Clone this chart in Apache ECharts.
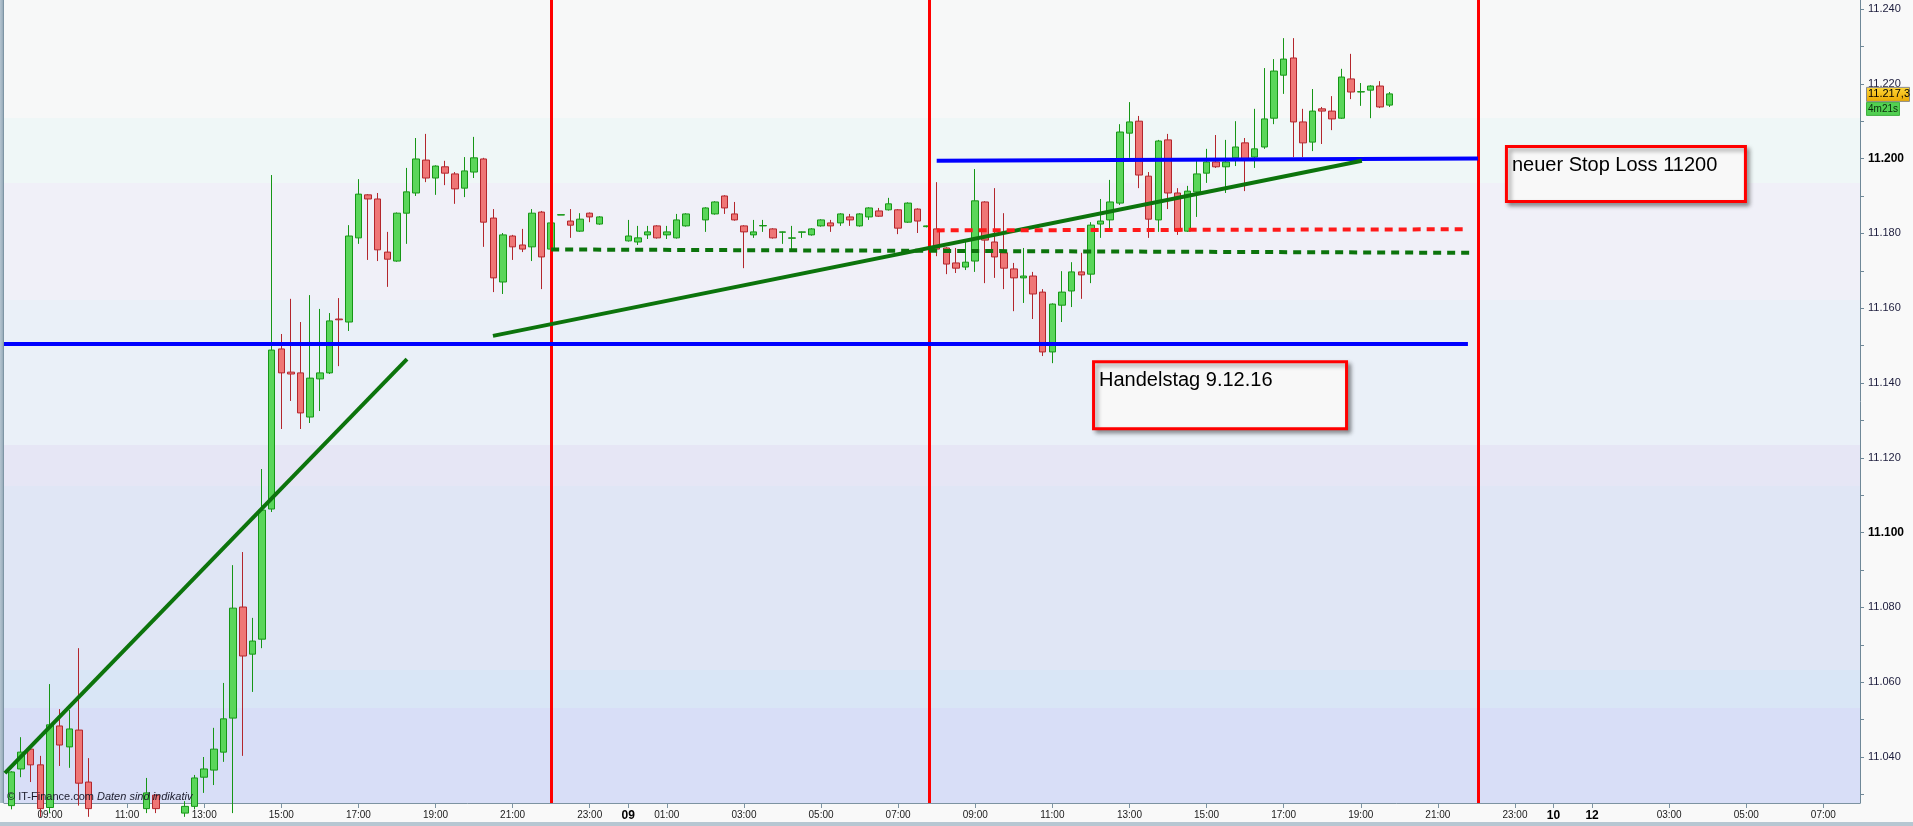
<!DOCTYPE html>
<html><head><meta charset="utf-8">
<script src="https://cdn.jsdelivr.net/npm/echarts@6/dist/echarts.min.js"></script>
<style>html,body{margin:0;padding:0;background:#f9f9f9;}#c{width:1913px;height:826px;}</style>
</head><body><div id="c"></div>
<script>
// time = hours since 08.12.16 00:00 ; [time, open, close, low, high]
const candlesDec8 = [
[8.00,11.0270,11.0360,11.0260,11.0362],[8.25,11.0368,11.0413,11.0346,11.0453],
[8.50,11.0421,11.0379,11.0333,11.0423],[8.75,11.0379,11.0262,11.0240,11.0403],
[9.00,11.0265,11.0486,11.0250,11.0595],[9.25,11.0483,11.0432,11.0376,11.0528],
[9.50,11.0427,11.0475,11.0371,11.0526],[9.75,11.0472,11.0330,11.0270,11.0691],
[10.00,11.0333,11.0262,11.0240,11.0397],[11.50,11.0262,11.0304,11.0250,11.0344],
[11.75,11.0298,11.0262,11.0250,11.0300],[12.50,11.0250,11.0268,11.0240,11.0282],
[12.75,11.0268,11.0344,11.0260,11.0352],[13.00,11.0346,11.0368,11.0304,11.0400],
[13.25,11.0365,11.0421,11.0325,11.0478],[13.50,11.0413,11.0502,11.0387,11.0598],
[13.75,11.0504,11.0798,11.0250,11.0913],[14.00,11.0801,11.0670,11.0403,11.0948],
[14.25,11.0675,11.0710,11.0574,11.0772],[14.50,11.0715,11.1060,11.0691,11.1170],
[14.75,11.1063,11.1488,11.1055,11.1956],[15.00,11.1491,11.1427,11.1277,11.1531],
[15.25,11.1429,11.1424,11.1352,11.1625],[15.50,11.1427,11.1320,11.1277,11.1563],
[15.75,11.1309,11.1413,11.1293,11.1635],[16.00,11.1411,11.1427,11.1325,11.1598],
[16.25,11.1427,11.1566,11.1424,11.1587],[16.50,11.1571,11.1569,11.1445,11.1627],
[16.75,11.1563,11.1793,11.1539,11.1822],[17.00,11.1788,11.1905,11.1772,11.1945],
[17.25,11.1903,11.1892,11.1729,11.1905],[17.50,11.1892,11.1756,11.1726,11.1908],
[17.75,11.1750,11.1731,11.1657,11.1804],[18.00,11.1726,11.1854,11.1724,11.1856],
[18.25,11.1854,11.1911,11.1772,11.1975],[18.50,11.1908,11.1999,11.1900,11.2055],
[18.75,11.1996,11.1948,11.1937,11.2066],[19.00,11.1948,11.1980,11.1903,11.1982],
[19.25,11.1978,11.1961,11.1929,11.1994],[19.50,11.1959,11.1919,11.1879,11.1964],
[19.75,11.1921,11.1967,11.1897,11.2004],[20.00,11.1964,11.2002,11.1948,11.2058],
[20.25,11.1999,11.1830,11.1764,11.2002],[20.50,11.1841,11.1681,11.1643,11.1865],
[20.75,11.1670,11.1796,11.1638,11.1801],[21.00,11.1793,11.1764,11.1729,11.1796],
[21.25,11.1769,11.1758,11.1750,11.1812],[21.50,11.1764,11.1854,11.1726,11.1865],
[21.75,11.1857,11.1737,11.1651,11.1860],[22.00,11.1758,11.1828,11.1756,11.1830],
[22.25,11.1849,11.1850,11.1849,11.1850],[22.50,11.1833,11.1822,11.1788,11.1865],
[22.75,11.1806,11.1838,11.1804,11.1854],[23.00,11.1854,11.1844,11.1830,11.1856],
[23.25,11.1825,11.1844,11.1823,11.1846]
];
const candlesDec9 = [
[24.00,11.1780,11.1793,11.1778,11.1836],[24.25,11.1777,11.1788,11.1769,11.1820],
[24.50,11.1796,11.1804,11.1785,11.1820],[24.75,11.1820,11.1788,11.1786,11.1822],
[25.00,11.1796,11.1804,11.1785,11.1820],[25.25,11.1788,11.1836,11.1786,11.1852],
[25.50,11.1820,11.1852,11.1818,11.1854],[26.00,11.1836,11.1868,11.1804,11.1870],
[26.25,11.1852,11.1884,11.1850,11.1886],[26.50,11.1900,11.1868,11.1852,11.1902],
[26.75,11.1852,11.1836,11.1834,11.1884],[27.00,11.1820,11.1804,11.1707,11.1822],
[27.25,11.1796,11.1804,11.1788,11.1836],[27.50,11.1820,11.1821,11.1804,11.1836],
[27.75,11.1812,11.1788,11.1786,11.1814],[28.00,11.1803,11.1804,11.1772,11.1805],
[28.25,11.1787,11.1788,11.1758,11.1820],[28.50,11.1803,11.1804,11.1788,11.1805],
[28.75,11.1796,11.1812,11.1794,11.1814],[29.00,11.1820,11.1836,11.1818,11.1838],
[29.25,11.1828,11.1820,11.1804,11.1836],[29.50,11.1828,11.1852,11.1820,11.1854],
[29.75,11.1844,11.1836,11.1820,11.1852],[30.00,11.1820,11.1852,11.1818,11.1854],
[30.25,11.1844,11.1868,11.1836,11.1870],[30.50,11.1860,11.1846,11.1844,11.1868],
[30.75,11.1863,11.1879,11.1861,11.1895],[31.00,11.1863,11.1814,11.1798,11.1865],
[31.25,11.1830,11.1881,11.1828,11.1883],[31.50,11.1865,11.1833,11.1801,11.1867],
[31.75,11.1818,11.1820,11.1816,11.1821],[32.00,11.1812,11.1758,11.1739,11.1937],
[32.25,11.1761,11.1718,11.1691,11.1763],[32.50,11.1721,11.1707,11.1694,11.1761],
[32.75,11.1710,11.1723,11.1702,11.1777],[33.00,11.1726,11.1887,11.1697,11.1972],
[33.25,11.1884,11.1782,11.1667,11.1886],[33.50,11.1777,11.1737,11.1681,11.1921],
[33.75,11.1748,11.1707,11.1651,11.1854],[34.00,11.1705,11.1681,11.1592,11.1721],
[34.25,11.1681,11.1686,11.1614,11.1761],[34.50,11.1686,11.1638,11.1571,11.1697],
[34.75,11.1643,11.1483,11.1472,11.1651],[35.00,11.1483,11.1611,11.1453,11.1613],
[35.25,11.1608,11.1643,11.1563,11.1699],[35.50,11.1646,11.1697,11.1603,11.1723],
[35.75,11.1697,11.1689,11.1625,11.1748],[36.00,11.1691,11.1822,11.1667,11.1830],
[36.25,11.1825,11.1833,11.1788,11.1892],[36.50,11.1836,11.1884,11.1809,11.1943],
[36.75,11.1881,11.2071,11.1876,11.2092],[37.00,11.2068,11.2098,11.2002,11.2151],
[37.25,11.2100,11.1956,11.1921,11.2114],[37.50,11.1953,11.1838,11.1788,11.1964],
[37.75,11.1836,11.2047,11.1804,11.2050],[38.00,11.2050,11.1908,11.1865,11.2066],
[38.25,11.1908,11.1806,11.1796,11.1921],[38.50,11.1806,11.1913,11.1804,11.1927],
[38.75,11.1911,11.1959,11.1844,11.1994],[39.00,11.1961,11.1991,11.1935,11.2026],
[39.25,11.1991,11.1978,11.1975,11.2063],[39.50,11.1978,11.1991,11.1908,11.2050],
[39.75,11.2002,11.2031,11.1980,11.2100],[40.00,11.2042,11.1999,11.1913,11.2055],
[40.25,11.2004,11.2026,11.1975,11.2133],[40.50,11.2031,11.2106,11.2026,11.2242],
[40.75,11.2108,11.2234,11.2092,11.2266],[41.00,11.2223,11.2266,11.2173,11.2322],
[41.25,11.2269,11.2098,11.2004,11.2322],[41.50,11.2098,11.2042,11.2004,11.2133],
[41.75,11.2044,11.2127,11.2020,11.2186],[42.00,11.2133,11.2127,11.2039,11.2138],
[42.25,11.2127,11.2106,11.2076,11.2167],[42.50,11.2108,11.2218,11.2106,11.2240],
[42.75,11.2213,11.2178,11.2159,11.2280],[43.00,11.2178,11.2179,11.2141,11.2202],
[43.25,11.2183,11.2194,11.2108,11.2196],[43.50,11.2194,11.2138,11.2135,11.2207],
[43.75,11.2143,11.2173,11.2138,11.2178]
];
const xTickHours  = [9,11,13,15,17,19,21,23,24,25,27,29,31,33,35,37,39,41,43,45,47,48,49,51,53,55];
const xTickLabels = ['09:00','11:00','13:00','15:00','17:00','19:00','21:00','23:00','09','01:00','03:00','05:00','07:00','09:00','11:00','13:00','15:00','17:00','19:00','21:00','23:00','10','12','03:00','05:00','07:00'];
const xBoldLabels = ['09','10','12'];
const yLabelValues = [11.04,11.06,11.08,11.10,11.12,11.14,11.16,11.18,11.20,11.22,11.24];
const yTickValues  = [11.03,11.04,11.05,11.06,11.07,11.08,11.09,11.10,11.11,11.12,11.13,11.14,11.15,11.16,11.17,11.18,11.19,11.20,11.21,11.22,11.23,11.24];
const yBoldValues  = [11.10,11.20];
const redVerticalTimes = [22.0, 31.8, 46.04];
const trendLine1 = [[7.83,11.0357],[18.26,11.1464]];
const trendLine2 = [[20.49,11.1526],[43.03,11.1994]];
const support11150 = [[7.807,11.1504],[45.78,11.1504]];
const stop11200 = [[32.0,11.1994],[46.04,11.2000]];
const greenDashed = [[22.0,11.1757],[45.95,11.1748]];
const redDashed = [[32.0,11.1808],[45.68,11.1811]];
const noteTexts = ['neuer Stop Loss 11200','Handelstag 9.12.16'];
const noteAnchors = [[46.74,11.2036],[36.03,11.1461]];
const lastPriceText = '11.217,3';
const timerText = '4m21s';

const FONT = '"Liberation Sans", Arial, sans-serif';
const chart = echarts.init(document.getElementById('c'), null, {renderer:'canvas'});
const allCandles = candlesDec8.concat(candlesDec9);
const X_MIN = 7.807, X_MAX = 55.95, Y_MIN = 11.0277, Y_MAX = 11.2424;

function seg(name, data, color, type, width){
  return {name, type:'line', data, symbol:'none', silent:true, z:5,
    lineStyle:{color, width, type, cap:'butt'}, animation:false};
}

const bg = new echarts.graphic.LinearGradient(0,0,0,1,[
 {offset:0,color:'#f7f8f8'},{offset:0.147,color:'#f7f8f8'},
 {offset:0.147,color:'#eff7f7'},{offset:0.228,color:'#eff7f7'},
 {offset:0.228,color:'#f0f0f8'},{offset:0.374,color:'#f0f0f8'},
 {offset:0.374,color:'#eaf0f8'},{offset:0.554,color:'#eaf0f8'},
 {offset:0.554,color:'#e6e6f5'},{offset:0.605,color:'#e6e6f5'},
 {offset:0.605,color:'#e0e6f5'},{offset:0.834,color:'#e0e6f5'},
 {offset:0.834,color:'#d9e6f6'},{offset:0.882,color:'#d9e6f6'},
 {offset:0.882,color:'#d8def7'},{offset:1,color:'#d8def7'}
]);

chart.setOption({
  animation:false,
  backgroundColor:'#f9f9f9',
  grid:{left:4,right:53,top:0,bottom:23,show:true,backgroundColor:bg,borderWidth:0},
  xAxis:{type:'value',min:X_MIN,max:X_MAX,
    axisLine:{show:true,onZero:false,lineStyle:{color:'#7d93a2',width:1}},
    axisTick:{show:true,customValues:xTickHours,length:5,lineStyle:{color:'#7d93a2'}},
    splitLine:{show:false},
    axisLabel:{customValues:xTickHours,margin:7,fontFamily:FONT,fontSize:10,color:'#1a1a1a',
      formatter:function(v){const i=xTickHours.indexOf(v); if(i<0) return ''; const s=xTickLabels[i];
        return xBoldLabels.indexOf(s)>=0 ? '{b|'+s+'}' : s;},
      rich:{b:{fontFamily:FONT,fontSize:12,fontWeight:'bold',color:'#000'}}}
  },
  yAxis:{type:'value',position:'right',min:Y_MIN,max:Y_MAX,scale:true,
    axisLine:{show:true,onZero:false,lineStyle:{color:'#6f8898',width:1}},
    axisTick:{show:true,customValues:yTickValues,length:4,lineStyle:{color:'#6f8898'}},
    splitLine:{show:false},
    axisLabel:{customValues:yLabelValues,margin:8,fontFamily:FONT,fontSize:11,color:'#1c1c3c',
      formatter:function(v){const s=v.toFixed(3); const bold=yBoldValues.some(b=>Math.abs(b-v)<1e-6);
        return bold ? '{b|'+s+'}' : s;},
      rich:{b:{fontFamily:FONT,fontSize:12,fontWeight:'bold',color:'#000'}}}
  },
  series:[
    {type:'candlestick',data:allCandles,encode:{x:0,y:[1,2,3,4]},barWidth:7,clip:true,z:3,silent:true,
      itemStyle:{color:'#5ad65a',color0:'#ef7676',borderColor:'#169616',borderColor0:'#b3262c',borderWidth:1},
      markLine:{silent:true,symbol:['none','none'],label:{show:false},animation:false,
        lineStyle:{color:'#ff0000',width:3,type:'solid'},
        data:redVerticalTimes.map(t=>({xAxis:t}))}
    },
    seg('support', support11150, '#0000ff', 'solid', 4),
    seg('stop', stop11200, '#0000ff', 'solid', 4),
    seg('trend1', trendLine1, '#0c740c', 'solid', 4),
    seg('trend2', trendLine2, '#0c740c', 'solid', 4),
    seg('greenDashed', greenDashed, '#0c740c', [8,6], 4),
    seg('redDashed', redDashed, '#ff1a1a', [8,6], 4)
  ]
});

const grid = chart.getModel().getComponent('grid').coordinateSystem.getRect();
const graphics = [];
graphics.push({type:'rect',shape:{x:0,y:0,width:4,height:grid.y+grid.height},silent:true,
  style:{fill:new echarts.graphic.LinearGradient(0,0,1,0,[{offset:0,color:'#b4c4d0'},{offset:0.6,color:'#9fb2c0'},{offset:1,color:'#6f8898'}])}});
graphics.push({type:'rect',shape:{x:0,y:822,width:1913,height:4},silent:true,style:{fill:'#b6c7d2'}});
const noteSizes = [[239,55],[253,67]];
const noteTextDy = [20,20];
noteTexts.forEach((t,i)=>{
  const p = chart.convertToPixel({gridIndex:0}, noteAnchors[i]);
  graphics.push({type:'rect',z:20,shape:{x:p[0]+1.5,y:p[1]+1.5,width:noteSizes[i][0],height:noteSizes[i][1]},
    style:{fill:'#f8f8f8',stroke:'#ff0000',lineWidth:3,shadowBlur:4,shadowOffsetX:3,shadowOffsetY:3,shadowColor:'rgba(0,0,0,0.35)'}});
  graphics.push({type:'text',z:21,x:p[0]+7,y:p[1]+noteTextDy[i],
    style:{text:t,font:'20px '+FONT,fill:'#000',verticalAlign:'middle',align:'left'}});
});
graphics.push({type:'text',z:21,x:7,y:797,style:{text:'© IT-Finance.com',font:'11px '+FONT,fill:'#1a1a2a',verticalAlign:'middle'}});
graphics.push({type:'text',z:21,x:97,y:797,style:{text:'Daten sind indikativ',font:'italic 11px '+FONT,fill:'#1a1a2a',verticalAlign:'middle'}});
const last = allCandles[allCandles.length-1][2];
const ly = chart.convertToPixel({yAxisIndex:0}, last);
const ax = grid.x + grid.width;
graphics.push({type:'rect',z:22,shape:{x:ax+6.5,y:ly-6.5,width:43,height:14},
  style:{fill:new echarts.graphic.LinearGradient(0,0,0,1,[{offset:0,color:'#ffd83a'},{offset:1,color:'#eaa800'}]),stroke:'#8a8a8a',lineWidth:1}});
graphics.push({type:'text',z:23,x:ax+8,y:ly+0.5,style:{text:lastPriceText,font:'11px '+FONT,fill:'#000',verticalAlign:'middle'}});
graphics.push({type:'rect',z:22,shape:{x:ax+6.5,y:ly+8.5,width:33,height:13},
  style:{fill:'#52d052',stroke:'#3fb03f',lineWidth:1}});
graphics.push({type:'text',z:23,x:ax+8,y:ly+15,style:{text:timerText,font:'10px '+FONT,fill:'#0a2a0a',verticalAlign:'middle'}});
chart.setOption({graphic:graphics});
</script></body></html>
